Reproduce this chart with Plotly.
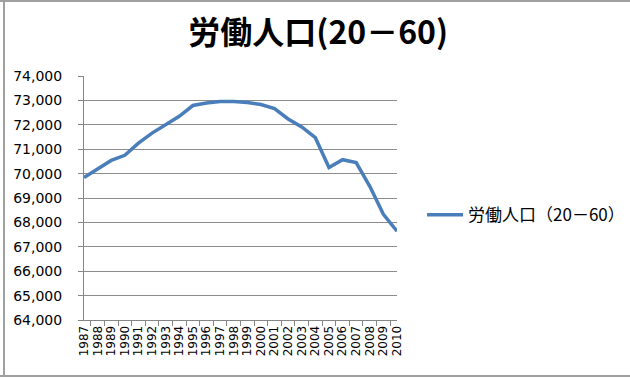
import plotly.graph_objects as go

years = [str(y) for y in range(1987, 2011)]
workforce = [69840, 70200, 70540, 70750, 71250, 71660, 72020, 72350, 72790, 72890,
             72950, 72950, 72910, 72830, 72660, 72240, 71910, 71470, 70250, 70570,
             70450, 69480, 68330, 67640]
series_name = "労働人口（20－60）"
title_text = "労働人口(20－60)"

fig = go.Figure()
fig.add_trace(go.Scatter(
    x=years, y=workforce, mode="lines", name=series_name,
    line=dict(color="#4a7ebb", width=3.5),
))

fig.update_layout(
    width=630, height=378,
    margin=dict(l=84, r=233, t=76, b=58, autoexpand=False),
    paper_bgcolor="white", plot_bgcolor="white",
    title=dict(text="<b>" + title_text + "</b>", x=0.505, xanchor="center",
               y=0.912, yanchor="middle",
               font=dict(family="Noto Sans CJK JP", size=32, color="#000000")),
    showlegend=True,
    legend=dict(x=1.08, xanchor="left", y=0.43, yanchor="middle",
                font=dict(family="Noto Sans CJK JP", size=17, color="#000000"),
                itemwidth=36, bgcolor="rgba(0,0,0,0)"),
    shapes=[
        dict(type="line", xref="paper", yref="paper", x0=-84/313, x1=-84/313 + 630/313,
             y0=1 + 75/244, y1=1 + 75/244, line=dict(color="#a0a0a0", width=2)),
        dict(type="line", xref="paper", yref="paper", x0=-80/313, x1=-80/313,
             y0=1 + 76/244, y1=-56/244, line=dict(color="#a0a0a0", width=2)),
        dict(type="line", xref="paper", yref="paper", x0=-84/313, x1=-84/313 + 630/313,
             y0=-56/244, y1=-56/244, line=dict(color="#a0a0a0", width=2)),
    ],
)

fig.update_xaxes(
    type="category", tickangle=-90, tickson="boundaries", dtick=1,
    ticks="outside", ticklen=5, tickcolor="#868686",
    showline=True, linecolor="#868686", linewidth=1,
    showgrid=False, automargin=False,
    tickfont=dict(family="DejaVu Sans", size=12, color="#000000"),
)
fig.update_yaxes(
    range=[64000, 74000], dtick=1000, tickformat=",",
    ticks="outside", ticklen=5, tickcolor="#868686",
    showline=True, linecolor="#868686", linewidth=1,
    showgrid=True, gridcolor="#8c8c8c", gridwidth=1,
    zeroline=False, automargin=False, ticklabelstandoff=13,
    tickfont=dict(family="DejaVu Sans", size=14, color="#000000"),
)

fig.write_html("out.html")
